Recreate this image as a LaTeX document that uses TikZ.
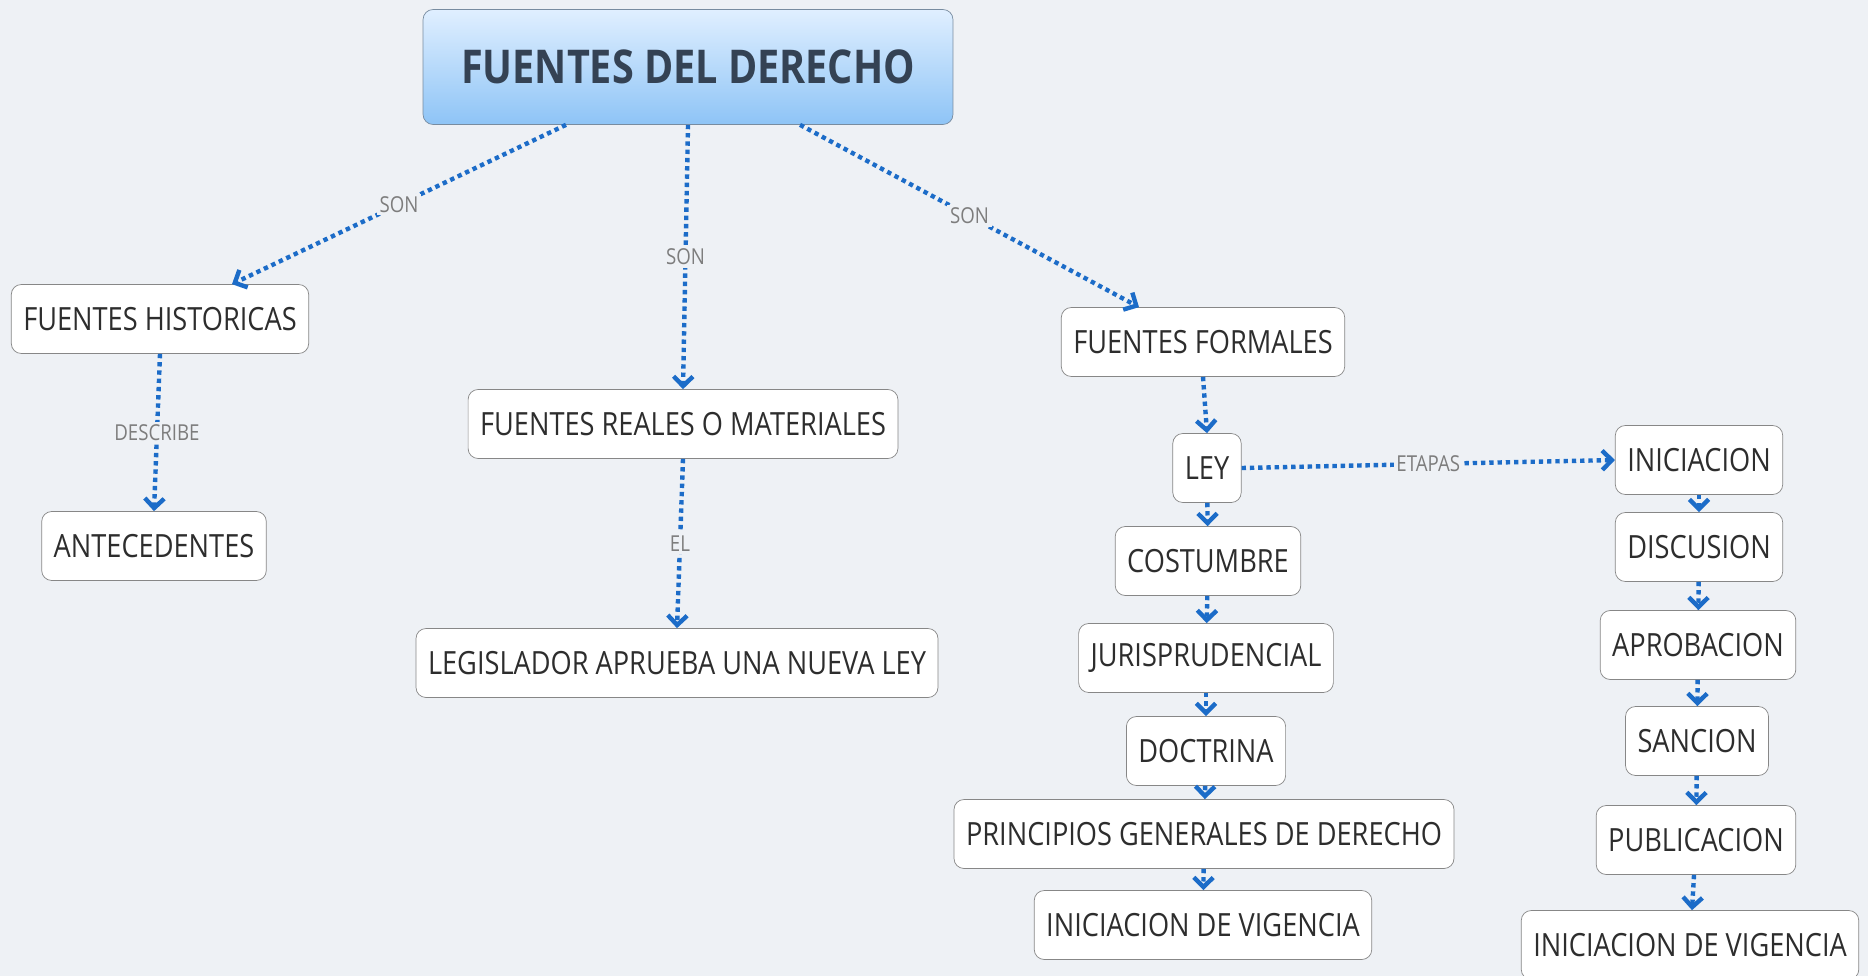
\documentclass[tikz,border=0pt]{standalone}
\usepackage{fontspec}
\setmainfont{Open Sans}[FakeStretch=0.85]
\usetikzlibrary{arrows.meta}

\definecolor{fondo}{RGB}{238,241,245}
\definecolor{azul}{RGB}{28,108,200}
\definecolor{borde}{RGB}{135,135,135}
\definecolor{texto}{RGB}{45,45,45}
\definecolor{etiq}{RGB}{125,125,125}
\definecolor{titarriba}{RGB}{224,239,255}
\definecolor{titabajo}{RGB}{142,196,246}
\definecolor{tittexto}{RGB}{52,66,84}
\definecolor{titborde}{RGB}{120,140,160}

\tikzset{
  caja/.style={draw=borde, fill=white, rounded corners=0.2cm, minimum height=1.38cm,
    inner xsep=0.24cm, text=texto, font=\fontsize{18.2}{20}\selectfont},
  titulo/.style={draw=titborde, top color=titarriba, bottom color=titabajo,
    rounded corners=0.2cm, minimum width=10.6cm, minimum height=2.3cm,
    text=tittexto, font=\bfseries\fontsize{26.5}{28}\selectfont},
  enlace/.style={azul, line width=2.5pt, dash pattern=on 2.5pt off 2.2pt,
    -{Straight Barb[length=5.5pt,width=11pt,line width=2.5pt]}},
  etiqueta/.style={fill=fondo, text=etiq, inner sep=1.5pt, font=\fontsize{12.5}{13}\selectfont}
}

\begin{document}
\begin{tikzpicture}[x=0.02cm, y=-0.02cm]
  % background
  \fill[fondo] (0,0) rectangle (1868,976);
  \useasboundingbox (0,0) rectangle (1868,976);

  % Title
  \node[titulo] (fuentes) at (688,67) {FUENTES DEL DERECHO};

  % Left branch
  \node[caja] (hist) at (160,319) {FUENTES HISTORICAS};
  \node[caja] (antec) at (154,546) {ANTECEDENTES};

  % Middle branch
  \node[caja] (reales) at (683,424) {FUENTES REALES O MATERIALES};
  \node[caja] (legis) at (677,663) {LEGISLADOR APRUEBA UNA NUEVA LEY};

  % Right branch
  \node[caja] (formal) at (1203,342) {FUENTES FORMALES};
  \node[caja] (ley) at (1207,468) {LEY};
  \node[caja] (costumbre) at (1208,561) {COSTUMBRE};
  \node[caja] (juris) at (1206,658) {JURISPRUDENCIAL};
  \node[caja] (doctrina) at (1206,751) {DOCTRINA};
  \node[caja] (principios) at (1204,834) {PRINCIPIOS GENERALES DE DERECHO};
  \node[caja] (vigencia) at (1203,925) {INICIACION DE VIGENCIA};

  % Stages of the law
  \node[caja] (iniciacion) at (1699,460) {INICIACION};
  \node[caja] (discusion) at (1699,547) {DISCUSION};
  \node[caja] (aprobacion) at (1698,645) {APROBACION};
  \node[caja] (sancion) at (1697,741) {SANCION};
  \node[caja] (publicacion) at (1696,840) {PUBLICACION};
  \node[caja] (vigenciab) at (1690,945) {INICIACION DE VIGENCIA};

  % Links from the title
  \draw[enlace] ([xshift=-122*0.02cm]fuentes.south) -- node[etiqueta] {SON} ([xshift=72*0.02cm]hist.north);
  \draw[enlace] (fuentes.south) -- node[etiqueta] {SON} (reales.north);
  \draw[enlace] ([xshift=112*0.02cm]fuentes.south) -- node[etiqueta] {SON} ([xshift=-64*0.02cm]formal.north);

  % Links below
  \draw[enlace] (hist.south) -- node[etiqueta] {DESCRIBE} (antec.north);
  \draw[enlace] (reales.south) -- node[etiqueta] {EL} (legis.north);
  \draw[enlace] (formal.south) -- (ley.north);
  \draw[enlace] (ley.east) -- node[etiqueta] {ETAPAS} (iniciacion.west);

  % Chain of formal sources
  \draw[enlace] (ley) -- (costumbre);
  \draw[enlace] (costumbre) -- (juris);
  \draw[enlace] (juris) -- (doctrina);
  \draw[enlace] (doctrina) -- (principios);
  \draw[enlace] (principios) -- (vigencia);

  % Chain of stages
  \draw[enlace] (iniciacion) -- (discusion);
  \draw[enlace] (discusion) -- (aprobacion);
  \draw[enlace] (aprobacion) -- (sancion);
  \draw[enlace] (sancion) -- (publicacion);
  \draw[enlace] (publicacion) -- (vigenciab);
\end{tikzpicture}
\end{document}
